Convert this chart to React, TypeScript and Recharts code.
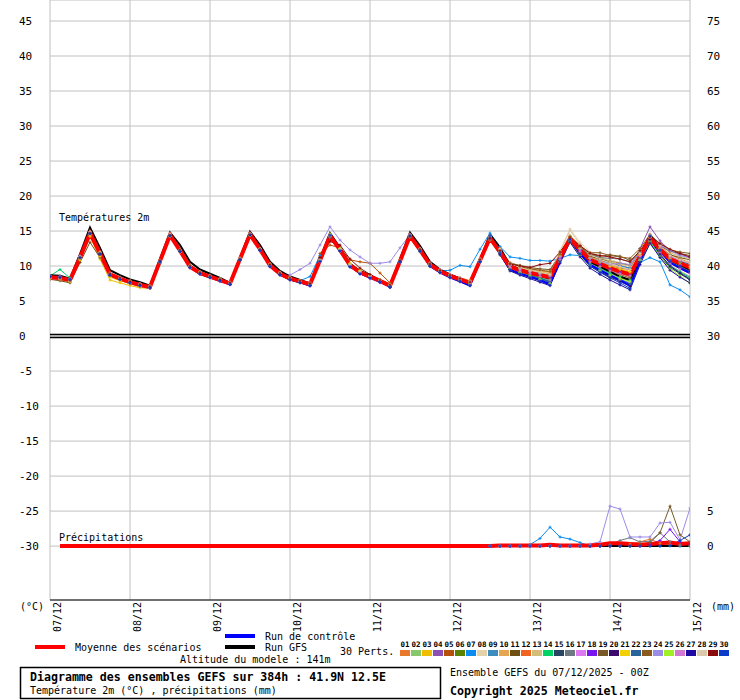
import { CartesianGrid, Line, LineChart, ReferenceLine, XAxis, YAxis } from "recharts";

const MONO = "DejaVu Sans Mono, monospace";

// forecast steps (hours from 07/12 00Z), one point every 3h
const HOURS = [
  0, 3, 6, 9, 12, 15, 18, 21, 24, 27, 30, 33, 36, 39, 42, 45, 48, 51, 54, 57, 60, 63, 66, 69, 72, 75, 78, 81, 84, 87, 90, 93,
  96, 99, 102, 105, 108, 111, 114, 117, 120, 123, 126, 129, 132, 135, 138, 141, 144, 147, 150, 153, 156, 159, 162, 165,
  168, 171, 174, 177, 180, 183, 186, 189, 192,
];
const DAY_TICKS = [0, 24, 48, 72, 96, 120, 144, 168, 192];
const DAY_LABELS = ["07/12", "08/12", "09/12", "10/12", "11/12", "12/12", "13/12", "14/12", "15/12"];
const TEMP_TICKS = [-30, -25, -20, -15, -10, -5, 0, 5, 10, 15, 20, 25, 30, 35, 40, 45];
const RIGHT_TICKS = [0, 5, 30, 35, 40, 45, 50, 55, 60, 65, 70, 75];

// temperature 2m (°C)
const MEAN = [8.4,8.3,8.0,11.2,14.7,11.8,8.8,8.2,7.7,7.3,7.0,10.7,14.4,12.2,9.9,9.0,8.5,8.0,7.5,11.0,14.5,12.4,10.1,8.9,8.2,7.8,7.4,10.8,14.3,12.3,10.1,9.1,8.5,7.9,7.2,10.7,14.3,12.3,10.2,9.3,8.6,8.1,7.6,10.8,14.0,12.0,9.9,9.4,9.0,8.7,8.4,11.2,13.9,12.3,10.9,10.3,9.7,9.2,8.8,11.4,14.0,12.4,11.0,10.4,9.8];
const CTRL = [8.6,8.4,8.1,11.3,14.8,11.8,8.8,8.2,7.7,7.3,7.0,10.7,14.4,12.2,9.9,8.9,8.4,7.9,7.4,11.0,14.6,12.4,10.0,8.8,8.1,7.7,7.2,10.8,14.5,12.3,10.0,9.0,8.4,7.8,7.1,10.7,14.4,12.2,10.0,9.1,8.4,7.8,7.2,10.7,14.2,11.8,9.5,8.9,8.5,8.0,7.4,10.7,13.8,11.8,10.2,9.4,8.7,8.0,7.2,10.7,14.2,12.2,10.5,9.7,9.0];
const GFS = [8.7,8.6,8.2,11.7,15.5,12.6,9.4,8.7,8.1,7.7,7.2,11.0,14.8,13.0,10.6,9.5,8.9,8.3,7.6,11.2,14.9,13.0,10.6,9.3,8.5,8.0,7.5,11.0,14.7,12.6,10.3,9.3,8.7,8.0,7.2,11.0,14.8,12.9,10.6,9.5,8.8,8.2,7.5,10.9,14.5,12.6,10.1,9.5,9.0,8.6,8.2,11.1,13.9,12.2,10.6,9.9,9.2,8.5,8.0,11.2,14.4,12.5,10.9,10.2,9.5];

const M01 = [8.6,8.4,8.1,11.4,14.9,11.9,8.9,8.3,7.8,7.4,7.1,10.8,14.6,12.3,10.0,9.1,8.6,8.1,7.6,11.1,14.6,12.5,10.2,9.0,8.3,7.9,7.5,10.9,14.4,12.4,10.2,9.2,8.6,8.0,7.4,10.8,14.5,12.5,10.4,9.5,8.8,8.3,7.9,11.0,14.2,12.4,10.5,10.0,9.7,9.4,9.2,11.8,14.3,12.9,11.6,11.0,10.5,10.1,9.7,12.0,14.3,12.9,11.6,11.0,10.5];
const M02 = [8.3,8.5,7.9,11.0,14.5,11.6,8.6,8.0,7.5,7.1,6.9,10.5,14.2,12.0,9.7,8.8,8.3,7.9,7.4,10.9,14.4,12.2,9.9,8.7,8.0,7.6,7.2,10.7,14.2,12.1,9.9,8.9,8.3,7.7,7.0,10.6,14.1,12.0,9.9,9.0,8.3,7.8,7.3,10.5,13.7,11.6,9.4,8.8,8.4,8.1,7.8,10.7,13.5,11.7,10.2,9.5,8.9,8.3,7.9,10.9,13.6,11.7,10.1,9.3,8.5];
const M03 = [8.2,8.0,7.7,10.8,14.2,11.0,8.0,7.6,7.2,6.9,6.8,10.6,14.3,12.0,9.8,8.9,8.5,8.1,7.6,11.1,14.6,12.5,10.3,9.1,8.4,7.9,7.5,10.9,14.4,12.4,10.3,9.3,8.6,8.0,7.3,10.8,14.4,12.4,10.4,9.5,8.8,8.3,7.9,11.0,14.1,12.2,10.2,9.7,9.4,9.2,8.9,11.5,14.0,12.5,11.2,10.6,10.0,9.6,9.2,11.6,14.0,12.3,10.9,10.2,9.6];
const M04 = [8.5,8.6,8.2,11.3,14.8,11.9,8.9,8.3,7.8,7.4,7.1,10.7,14.4,12.2,9.9,9.0,8.4,7.9,7.4,10.9,14.4,12.3,10.0,8.8,8.1,7.7,7.3,10.7,14.2,12.2,10.0,9.0,8.4,7.8,7.1,10.6,14.2,12.2,10.1,9.2,8.5,8.0,7.5,10.9,14.3,12.3,10.1,9.6,9.2,8.9,8.6,11.4,14.2,12.6,11.1,10.5,10.0,9.7,9.5,12.5,15.6,13.6,12.2,11.7,11.2];
const M05 = [8.3,8.2,7.9,11.1,14.6,11.7,8.8,8.1,7.6,7.2,6.9,10.6,14.3,12.1,9.8,8.9,8.4,7.9,7.4,10.9,14.4,12.3,10.0,8.8,8.1,7.7,7.4,11.8,13.0,12.6,10.9,10.6,10.4,9.0,7.6,10.5,14.2,12.2,10.1,9.2,8.5,8.0,7.5,10.7,13.8,11.8,9.7,9.1,8.7,8.4,8.1,11.0,13.7,12.0,10.6,9.9,9.3,8.8,8.3,11.0,13.6,12.0,10.5,9.8,9.1];
const M06 = [8.4,8.3,8.1,11.2,14.6,11.8,8.8,8.2,7.7,7.3,7.0,10.8,14.5,12.2,9.9,9.0,8.5,8.0,7.5,11.0,14.5,12.4,10.1,8.9,8.2,7.8,7.4,10.8,14.3,12.3,10.1,9.1,8.5,7.9,7.2,10.7,14.3,12.3,10.2,9.3,8.6,8.1,7.6,10.8,13.9,11.9,9.8,9.2,8.8,8.5,8.2,11.1,13.8,12.1,10.7,10.1,9.5,9.0,8.5,11.2,13.8,12.1,10.7,10.0,9.3];
const M07 = [8.5,8.4,8.1,11.2,14.6,11.7,8.7,8.1,7.6,7.2,6.9,10.6,14.3,12.1,9.8,8.9,8.4,7.9,7.4,10.9,14.4,12.3,10.0,8.8,8.1,7.9,8.5,11.5,14.1,12.1,9.9,8.9,8.3,7.7,7.0,10.6,14.2,12.2,10.1,9.3,9.4,10.1,9.9,12.4,14.7,12.8,11.3,11.1,10.8,10.8,10.7,11.1,11.6,11.5,11.2,10.8,10.4,10.0,9.7,10.5,11.2,10.6,7.3,6.6,5.6];
const M08 = [8.4,8.2,7.9,11.1,14.7,11.9,8.9,8.3,7.8,7.4,7.1,10.8,14.5,12.3,10.0,9.1,8.6,8.1,7.6,11.0,14.5,12.5,10.2,9.0,8.3,7.9,7.5,10.9,14.4,12.4,10.2,9.2,8.6,8.0,7.3,10.8,14.4,12.4,10.3,9.4,8.7,8.2,7.7,11.0,14.3,12.5,10.5,10.0,9.6,9.3,9.0,12.2,15.3,13.4,12.0,11.4,10.9,10.5,10.2,12.3,14.6,13.2,11.9,11.2,10.6];
const M09 = [8.4,8.3,8.0,11.2,14.8,11.8,8.8,8.2,7.7,7.3,7.0,10.7,14.4,12.2,9.9,9.0,8.5,8.0,7.5,11.0,14.6,12.4,10.1,8.9,8.2,7.8,7.4,10.9,14.5,12.3,10.0,9.0,8.4,7.8,7.1,10.7,14.4,12.3,10.2,9.3,8.5,8.0,7.5,10.9,14.4,12.0,9.6,9.0,8.5,8.1,7.7,10.8,13.6,11.6,10.1,9.4,8.7,8.1,7.6,10.8,13.6,11.6,10.1,9.1,8.4];
const M10 = [8.5,8.4,8.1,11.3,14.7,11.9,8.9,8.3,7.8,7.4,7.1,10.8,14.4,12.3,10.0,9.1,8.6,8.1,7.6,11.0,14.5,12.5,10.2,9.0,8.3,7.9,7.5,10.9,14.3,12.4,10.2,9.2,8.6,8.0,7.3,10.7,14.3,12.4,10.3,9.4,8.7,8.2,7.7,10.9,14.1,12.2,10.2,9.8,9.5,9.3,9.1,11.6,14.1,12.6,11.3,10.8,10.2,9.8,9.5,11.9,14.2,12.7,11.4,10.9,10.4];
const M11 = [8.1,7.9,7.6,10.5,13.4,11.2,8.6,8.0,7.5,7.1,6.9,10.4,14.2,12.1,9.9,9.0,8.5,8.0,7.4,10.8,14.3,12.3,10.0,8.8,8.1,7.7,7.3,10.6,14.1,12.1,10.0,9.0,8.4,7.8,7.1,10.5,14.1,12.1,10.1,9.2,8.5,8.0,7.5,10.7,13.9,11.9,9.9,9.4,9.1,8.8,8.6,11.4,14.0,12.6,11.4,11.0,10.7,10.4,10.1,12.0,13.9,12.6,11.6,11.2,10.9];
const M12 = [8.5,8.3,8.0,11.2,14.6,11.8,8.9,8.3,7.8,7.3,7.0,10.7,14.4,12.3,10.0,9.0,8.5,8.0,7.5,11.0,14.4,12.4,10.1,8.9,8.2,7.8,7.4,10.8,14.3,12.3,10.1,9.1,8.5,7.9,7.2,10.7,14.2,12.3,10.2,9.3,8.6,8.1,7.6,10.8,14.0,12.1,10.0,9.6,9.2,8.9,8.6,11.3,13.9,12.4,11.1,10.5,9.9,9.5,9.1,11.5,13.9,12.5,11.2,10.6,10.1];
const M13 = [8.3,8.2,7.9,11.1,14.6,11.9,9.0,8.4,7.9,7.5,7.2,10.8,14.4,12.3,10.1,9.2,8.7,8.2,7.7,11.1,14.5,12.5,10.3,9.1,8.4,8.0,7.6,10.9,14.3,12.4,10.3,9.3,8.7,8.1,7.4,10.8,14.3,12.4,10.4,9.5,8.8,8.3,7.8,10.9,14.0,12.3,10.4,10.0,9.7,9.5,9.3,11.8,14.4,13.0,11.8,11.2,10.7,10.3,10.0,12.1,14.1,13.0,11.9,11.4,11.0];
const M14 = [8.6,9.5,8.3,11.3,14.6,11.7,8.7,8.1,7.6,7.2,6.9,10.6,14.3,12.1,9.8,8.9,8.4,7.9,7.4,10.9,14.4,12.3,10.0,8.8,8.1,7.7,7.3,10.7,14.2,12.2,10.0,9.0,8.4,7.8,7.1,10.6,14.2,12.2,10.1,9.2,8.5,8.0,7.5,10.7,13.9,11.7,9.6,9.1,8.7,8.3,8.0,10.9,13.6,11.8,10.3,9.6,9.0,8.5,8.0,11.0,13.5,11.6,10.0,9.1,8.2];
const M15 = [8.4,8.3,8.0,11.1,14.5,11.7,8.8,8.2,7.7,7.3,7.0,10.7,14.4,12.2,9.9,9.0,8.5,8.0,7.5,11.0,14.5,12.3,10.0,8.8,8.1,7.7,7.3,10.8,14.3,12.2,10.0,9.0,8.4,7.8,7.1,10.7,14.3,12.2,10.1,9.2,8.5,8.0,7.5,10.8,14.1,11.8,9.6,9.0,8.6,8.2,7.8,10.8,13.5,11.6,10.0,9.2,8.4,7.9,7.4,10.6,13.2,11.4,9.8,8.9,8.0];
const M16 = [8.4,8.4,8.1,11.2,14.7,11.8,8.8,8.2,7.7,7.3,7.0,10.7,14.4,12.2,10.0,9.1,8.6,8.1,7.6,11.0,14.5,12.4,10.1,8.9,8.2,7.8,7.4,10.8,14.3,12.3,10.1,9.1,8.5,7.9,7.2,10.7,14.3,12.3,10.2,9.3,8.6,8.1,7.6,10.8,14.0,12.0,10.0,9.6,9.3,9.0,8.8,11.4,13.8,12.6,11.6,11.2,11.1,11.0,10.6,11.8,13.2,12.3,11.4,10.8,10.3];
const M17 = [8.2,8.1,7.8,11.0,14.5,11.6,8.6,8.0,7.5,7.1,6.8,10.5,14.3,12.0,9.7,8.8,8.3,7.8,7.3,10.9,14.4,12.2,9.9,8.7,8.0,7.6,7.1,10.6,14.2,12.1,9.9,8.9,8.2,7.6,6.9,10.5,14.2,12.1,10.0,9.0,8.3,7.7,7.2,10.6,13.9,11.7,9.5,8.9,8.4,7.9,7.3,10.5,13.6,11.7,10.1,9.3,8.6,8.0,7.6,10.9,13.7,11.9,10.4,9.6,8.9];
const M18 = [8.5,8.4,8.1,11.2,14.6,11.8,8.8,8.2,7.7,7.3,7.0,10.7,14.4,12.2,9.9,9.0,8.5,8.0,7.5,11.0,14.5,12.4,10.1,8.9,8.2,7.8,7.4,10.8,14.4,12.3,10.1,9.1,8.5,7.9,7.2,10.7,14.3,12.3,10.2,9.3,8.6,8.1,7.6,10.8,14.0,12.0,9.9,9.4,9.0,8.7,8.4,11.1,13.8,12.2,10.8,10.2,9.6,9.1,8.7,11.3,14.0,12.3,10.8,10.1,9.4];
const M19 = [8.3,8.2,7.9,11.1,14.6,11.8,8.9,8.3,7.8,7.4,7.1,10.7,14.4,12.3,10.0,9.1,8.6,8.1,7.6,11.0,14.4,12.4,10.2,9.0,8.3,7.9,7.5,10.8,14.2,12.3,10.2,9.2,8.6,8.0,7.3,10.7,14.2,12.3,10.3,9.4,8.7,8.2,7.7,10.8,13.8,12.2,10.4,10.1,9.8,9.6,9.5,11.6,13.6,12.7,11.7,11.4,11.6,11.4,10.8,12.0,13.7,12.9,12.1,11.8,11.5];
const M20 = [8.4,8.3,8.0,11.1,14.6,11.7,8.7,8.1,7.6,7.2,6.9,10.6,14.4,12.1,9.8,8.9,8.4,7.9,7.4,10.9,14.5,12.3,10.0,8.8,8.1,7.7,7.3,10.7,14.3,12.2,10.0,9.0,8.4,7.8,7.0,10.6,14.3,12.2,10.0,9.1,8.4,7.9,7.4,10.7,14.1,11.8,9.5,8.9,8.4,8.0,7.6,10.8,13.7,11.6,10.0,9.2,8.5,7.8,7.1,10.6,13.8,11.7,10.0,9.0,8.1];
const M21 = [8.3,8.2,7.8,11.0,14.4,11.4,8.4,7.9,7.5,7.1,6.9,10.6,14.4,12.3,10.0,9.1,8.6,8.1,7.6,11.0,14.4,12.4,10.2,9.0,8.3,7.9,7.5,10.8,14.3,12.5,10.4,9.4,8.7,8.0,7.3,10.7,14.3,12.4,10.3,9.4,8.7,8.2,7.7,10.9,14.1,12.1,10.1,9.6,9.2,8.9,8.7,11.4,14.1,12.5,11.1,10.6,10.0,9.6,9.2,11.5,14.1,12.5,11.1,10.5,9.9];
const M22 = [8.5,8.4,8.1,11.3,14.8,11.9,8.8,8.2,7.7,7.3,7.0,10.8,14.5,12.2,9.9,9.0,8.5,8.0,7.5,11.1,14.6,12.4,10.1,8.9,8.2,7.7,7.3,10.8,14.4,12.3,10.0,9.0,8.4,7.8,7.1,10.7,14.4,12.2,10.1,9.2,8.5,7.9,7.4,10.8,14.2,11.9,9.7,9.1,8.6,8.2,7.8,10.9,13.7,11.8,10.2,9.4,8.7,8.1,7.5,11.0,14.2,12.3,10.9,10.6,10.3];
const M23 = [8.4,8.3,8.0,11.2,14.7,11.9,8.9,8.3,7.8,7.4,7.1,10.8,14.5,12.3,10.1,9.1,8.6,8.1,7.6,11.1,14.6,12.5,10.2,9.0,8.3,7.9,7.5,10.9,14.4,12.4,10.2,9.2,8.6,8.0,7.3,10.8,14.4,12.4,10.3,9.4,8.7,8.2,7.7,10.9,14.1,12.2,10.3,9.9,9.6,9.4,9.2,11.7,14.2,12.9,11.9,11.9,11.5,11.3,11.1,12.5,14.5,13.2,12.3,12.0,11.8];
const M24 = [8.6,8.5,8.2,11.4,14.8,11.9,8.9,8.3,7.8,7.4,7.1,10.8,14.5,12.3,10.0,9.1,8.6,8.1,7.6,11.0,14.5,12.5,10.2,9.1,8.7,9.5,10.4,13.0,15.6,13.7,12.3,11.3,10.4,10.4,10.6,12.6,14.5,12.5,10.4,9.5,8.8,8.3,7.8,10.9,14.1,12.1,10.1,9.6,9.2,8.9,8.6,11.3,13.8,12.4,11.1,10.6,10.2,10.4,10.2,12.0,14.3,13.0,12.2,11.5,11.2];
const M25 = [8.3,8.2,7.9,11.1,14.6,11.8,8.8,8.2,7.7,7.3,7.0,10.7,14.3,12.2,9.9,9.0,8.5,8.0,7.5,11.0,14.4,12.4,10.2,9.0,8.3,7.8,7.4,10.8,14.6,12.5,10.3,9.3,8.6,8.0,7.3,10.8,14.3,12.2,10.1,9.2,8.5,8.0,7.5,10.8,14.1,11.9,9.7,9.1,8.6,8.1,7.5,10.6,13.4,11.5,10.0,9.3,8.7,8.2,7.8,10.8,13.4,11.3,9.6,8.6,7.5];
const M26 = [8.4,8.3,8.0,11.2,14.6,11.8,8.8,8.2,7.7,7.3,7.0,10.7,14.4,12.2,9.9,9.0,8.5,8.0,7.5,11.0,14.5,12.4,10.1,8.9,8.2,7.8,7.3,10.7,14.3,12.3,10.1,9.1,8.5,7.9,7.2,10.7,14.3,12.3,10.1,9.2,8.5,8.0,7.4,10.7,13.9,11.9,9.8,9.3,8.9,8.5,8.0,10.9,13.8,12.1,10.6,9.9,9.3,8.9,8.6,11.4,14.2,12.6,11.3,10.8,10.4];
const M27 = [8.5,8.4,8.0,11.2,14.7,11.7,8.7,8.1,7.6,7.2,6.9,10.6,14.4,12.1,9.8,8.9,8.4,7.9,7.4,10.9,14.5,12.3,10.0,8.8,8.1,7.7,7.2,10.7,14.4,12.2,9.9,8.9,8.3,7.7,7.0,10.6,14.4,12.2,10.0,9.1,8.4,7.8,7.2,10.6,14.0,11.6,9.3,8.7,8.2,7.7,7.2,10.4,13.4,11.3,9.7,8.8,8.0,7.3,6.6,10.2,13.3,11.2,9.4,8.4,7.6];
const M28 = [8.4,8.3,8.0,11.3,14.9,12.0,8.9,8.3,7.8,7.4,7.1,10.8,14.6,12.3,10.0,9.1,8.6,8.1,7.6,11.1,14.6,12.5,10.2,9.0,8.3,7.9,7.5,10.9,14.4,12.4,10.2,9.2,8.6,8.0,7.3,10.8,14.4,12.4,10.3,9.4,8.7,8.2,7.7,10.9,14.2,12.3,10.3,9.8,9.4,9.1,8.8,12.0,15.1,13.1,11.6,11.0,10.4,9.9,9.5,11.8,14.4,12.9,11.5,10.9,10.4];
const M29 = [8.4,8.3,8.0,11.2,14.7,11.8,8.9,8.3,7.8,7.4,7.1,10.8,14.4,12.3,10.0,9.1,8.6,8.1,7.6,11.0,14.5,12.4,10.2,9.0,8.3,7.9,7.5,11.2,13.5,13.0,11.0,9.7,8.8,8.0,7.3,10.8,14.3,12.4,10.3,9.4,8.7,8.2,7.7,10.9,14.0,12.2,10.3,10.0,9.8,10.2,10.4,12.0,14.0,12.9,11.8,11.5,11.3,11.0,10.6,12.2,14.2,13.2,12.4,11.8,11.3];
const M30 = [8.5,8.4,8.1,11.2,14.6,11.7,8.7,8.1,7.6,7.2,6.9,10.6,14.3,12.1,9.8,8.9,8.4,7.9,7.4,10.9,14.4,12.2,9.9,8.7,8.0,7.6,7.2,10.7,14.4,12.2,9.9,8.9,8.3,7.7,7.0,10.6,14.3,12.1,10.0,9.1,8.4,7.8,7.2,10.6,14.3,11.9,9.5,8.9,8.4,7.9,7.3,10.6,13.8,11.7,10.0,9.1,8.3,7.6,6.8,10.6,14.3,12.3,10.6,9.9,9.2];

const TEMP_MEMBERS = [M01, M02, M03, M04, M05, M06, M07, M08, M09, M10, M11, M12, M13, M14, M15, M16, M17, M18, M19, M20, M21, M22, M23, M24, M25, M26, M27, M28, M29, M30];

const MEMBER_COLORS = [
  "#e8782a", "#88c86a", "#f0be00", "#8c50b4", "#b4500a", "#5a8200", "#0a8cf0", "#e6d2aa", "#3c8cbe", "#e6a550",
  "#6e5014", "#f06420", "#d2be78", "#00d264", "#284664", "#6e7882", "#dc78f0", "#7814f0", "#785a28", "#3c0a6e",
  "#f0d200", "#28649b", "#8c5a1e", "#9b8ce6", "#a0f028", "#d278d2", "#1e0aa0", "#dcc8aa", "#8c0a0a", "#0a3cc8",
];

// precipitation (mm / 3h); member series start at 132h
const PRECIP_FROM = 44;
const P_MEAN = [null,0,0,0,0,0,0,0,0,0,0,0,0,0,0,0,0,0,0,0,0,0,0,0,0,0,0,0,0,0,0,0,0,0,0,0,0,0,0,0,0,0,0,0,0,0.1,0.1,0.1,0.1,0.1,0.2,0.1,0.1,0.1,0.1,0.2,0.4,0.4,0.3,0.2,0.3,0.4,0.5,0.3,0.4];
const P_CTRL = [0,0,0,0,0,0,0,0,0,0,0,0,0,0,0,0,0,0,0,0,0];
const P_GFS = [0,0,0,0,0,0,0,0,0,0,0,0,0,0,0,0,0,0,0,0,0];
const P_M01 = [0,0,0,0,0,0,0,0,0,0,0,0,0,0,0.3,0.6,1.0,0.4,0.2,0,0];
const P_M07 = [0,0,0,0,0.2,1.1,2.7,1.3,1.0,0.5,0,0,0,0,0,0,0,0,0,0,0];
const P_M16 = [0,0,0,0,0,0,0,0,0,0,0,0,0.2,0.8,1.2,0.6,0.7,1.9,0.6,0.2,0];
const P_M18 = [0,0,0,0,0,0,0,0,0,0,0,0,0,0,0,0,0.3,0.8,2.4,0.6,0.3];
const P_M19 = [0,0,0,0,0,0,0,0,0,0,0,0,0,0,0,0.2,0.5,1.9,5.7,1.6,0.6];
const P_M24 = [0,0,0,0,0,0,0,0,0,0,0.3,0.6,5.7,5.3,1.3,1.3,1.3,3.3,3.4,0.9,5.4];
const P_M30 = [0,0,0,0,0,0,0,0,0,0,0,0,0,0,0,0,0,0,0.1,0.8,1.6];

const PRECIP_MEMBERS: [number, number[]][] = [
  [1, P_M01], [7, P_M07], [16, P_M16], [18, P_M18], [19, P_M19], [24, P_M24], [30, P_M30],
];

const rows = HOURS.map((h, i) => {
  const row: Record<string, number | null> = { h };
  const j = i - PRECIP_FROM;
  TEMP_MEMBERS.forEach((s, k) => (row[`t${k}`] = s[i]));
  row.tCtrl = CTRL[i];
  row.tGfs = GFS[i];
  row.tMean = MEAN[i];
  PRECIP_MEMBERS.forEach(([n, s]) => (row[`p${n}`] = j >= 0 ? s[j] : null));
  row.pCtrl = j >= 0 ? P_CTRL[j] : null;
  row.pGfs = j >= 0 ? P_GFS[j] : null;
  row.pMean = P_MEAN[i];
  return row;
});

const crossDot = (color: string) => (p: any) => {
  const key = `${p.dataKey}-${p.index}`;
  if (!Number.isFinite(p.cx) || !Number.isFinite(p.cy) || p.value == null) return <g key={key} />;
  return (
    <path
      key={key}
      d={`M${p.cx - 1.5},${p.cy}h3M${p.cx},${p.cy - 1.5}v3`}
      stroke={color}
      strokeWidth={1}
      fill="none"
    />
  );
};

function DateTick({ x, payload }: any) {
  const idx = DAY_TICKS.indexOf(payload.value);
  return (
    <text
      transform={`translate(${x + 11},602) rotate(-90)`}
      textAnchor="end"
      fontSize={10}
      fontFamily={MONO}
      fill="#000"
    >
      {DAY_LABELS[idx]}
    </text>
  );
}

function LeftTick({ y, payload }: any) {
  return (
    <text x={19} y={y + 4} fontSize={11} fontFamily={MONO} fill="#000">
      {payload.value}
    </text>
  );
}

function RightTick({ y, payload }: any) {
  return (
    <text x={707} y={y + 4} fontSize={11} fontFamily={MONO} fill="#000">
      {payload.value}
    </text>
  );
}

function Footer() {
  return (
    <svg
      width={740}
      height={700}
      style={{ position: "absolute", left: 0, top: 0, pointerEvents: "none" }}
      fontFamily={MONO}
      fill="#000"
    >
      <text x={59} y={221} fontSize={10} fill="#000">Températures 2m</text>
      <text x={59} y={541} fontSize={10} fill="#000">Précipitations</text>
      <text x={20} y={610} fontSize={10} fill="#000">(°C)</text>
      <text x={711} y={610} fontSize={10} fill="#000">(mm)</text>

      <line x1={35} x2={65} y1={647} y2={647} stroke="#ff0000" strokeWidth={4} />
      <text x={75} y={651} fontSize={10} fill="#000">Moyenne des scénarios</text>
      <line x1={225} x2={255} y1={636} y2={636} stroke="#0000ff" strokeWidth={4} />
      <text x={265} y={640} fontSize={10} fill="#000">Run de contrôle</text>
      <line x1={225} x2={255} y1={647} y2={647} stroke="#000" strokeWidth={4} />
      <text x={265} y={651} fontSize={10} fill="#000">Run GFS</text>
      <text x={180} y={663} fontSize={10} fill="#000">Altitude du modele : 141m</text>
      <text x={340} y={655} fontSize={10} fill="#000">30 Perts.</text>

      {MEMBER_COLORS.map((c, k) => (
        <g key={c + k}>
          <text x={405 + 11 * k} y={647} fontSize={7.5} fontWeight="bold" textAnchor="middle" fill="#000">
            {String(k + 1).padStart(2, "0")}
          </text>
          <rect x={400 + 11 * k} y={650} width={10} height={6} fill={c} />
        </g>
      ))}

      <rect x={20.5} y={667.5} width={420} height={31} fill="none" stroke="#000" strokeWidth={1.5} />
      <text x={30} y={681} fontSize={11.6} fontWeight="bold" fill="#000">
        Diagramme des ensembles GEFS sur 384h : 41.9N 12.5E
      </text>
      <text x={30} y={694} fontSize={10} fill="#000">Température 2m (°C) , précipitations (mm)</text>
      <text x={450} y={676} fontSize={10} fill="#000">Ensemble GEFS du 07/12/2025 - 00Z</text>
      <text x={450} y={695} fontSize={11.6} fontWeight="bold" fill="#000">Copyright 2025 Meteociel.fr</text>
    </svg>
  );
}

export default function App() {
  return (
    <div style={{ position: "absolute", left: 0, top: 0, width: 740, height: 700, background: "#fff" }}>
      <LineChart width={740} height={640} data={rows} margin={{ top: 0, right: 0, bottom: 0, left: 0 }}>
        <CartesianGrid stroke="#c0c0c0" />
        <XAxis
          dataKey="h"
          type="number"
          domain={[0, 192]}
          ticks={DAY_TICKS}
          interval={0}
          height={40}
          tickLine={false}
          axisLine={{ stroke: "#000" }}
          tick={DateTick}
          allowDataOverflow
        />
        <YAxis
          type="number"
          domain={[-37.7, 48]}
          ticks={TEMP_TICKS}
          interval={0}
          width={50}
          axisLine={false}
          tickLine={false}
          tick={LeftTick}
          allowDataOverflow
        />
        <YAxis
          yAxisId="p"
          orientation="right"
          type="number"
          domain={[-7.7, 78]}
          ticks={RIGHT_TICKS}
          interval={0}
          width={50}
          axisLine={false}
          tickLine={false}
          tick={RightTick}
          allowDataOverflow
        />
        <ReferenceLine y={0.22} stroke="#000" strokeWidth={1.5} />
        <ReferenceLine y={-0.2} stroke="#000" strokeWidth={1.5} />

        {TEMP_MEMBERS.map((_, k) => (
          <Line
            key={`t${k}`}
            dataKey={`t${k}`}
            stroke={MEMBER_COLORS[k]}
            strokeWidth={1}
            dot={crossDot(MEMBER_COLORS[k])}
            activeDot={false}
            isAnimationActive={false}
          />
        ))}
        {PRECIP_MEMBERS.map(([n]) => (
          <Line
            key={`p${n}`}
            yAxisId="p"
            dataKey={`p${n}`}
            stroke={MEMBER_COLORS[n - 1]}
            strokeWidth={1}
            dot={crossDot(MEMBER_COLORS[n - 1])}
            activeDot={false}
            isAnimationActive={false}
          />
        ))}
        <Line dataKey="tCtrl" stroke="#0000ff" strokeWidth={2} dot={false} activeDot={false} isAnimationActive={false} />
        <Line dataKey="tGfs" stroke="#000" strokeWidth={2} dot={false} activeDot={false} isAnimationActive={false} />
        <Line yAxisId="p" dataKey="pCtrl" stroke="#0000ff" strokeWidth={2} dot={false} activeDot={false} isAnimationActive={false} />
        <Line yAxisId="p" dataKey="pGfs" stroke="#000" strokeWidth={2} dot={false} activeDot={false} isAnimationActive={false} />
        <Line dataKey="tMean" stroke="#ff0000" strokeWidth={4} dot={false} activeDot={false} isAnimationActive={false} />
        <Line yAxisId="p" dataKey="pMean" stroke="#ff0000" strokeWidth={4} dot={false} activeDot={false} isAnimationActive={false} />
      </LineChart>
      <Footer />
    </div>
  );
}
